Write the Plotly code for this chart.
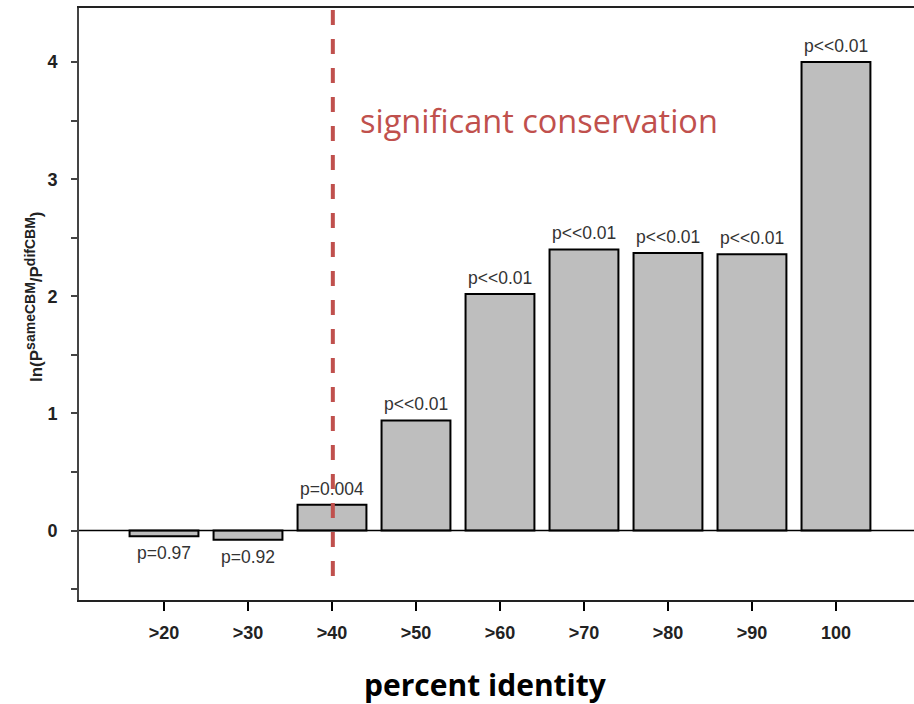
import plotly.graph_objects as go

# Percent-identity bins and log-ratio values
categories = [">20", ">30", ">40", ">50", ">60", ">70", ">80", ">90", "100"]
log_ratio = [-0.05, -0.08, 0.22, 0.94, 2.02, 2.40, 2.37, 2.36, 4.00]
p_labels = ["p=0.97", "p=0.92", "p=0.004", "p<<0.01", "p<<0.01",
            "p<<0.01", "p<<0.01", "p<<0.01", "p<<0.01"]

threshold_index = 2  # the ">40" bin
RED = "#c0504d"
HELV = "Liberation Sans, Arial"

fig = go.Figure()
fig.add_trace(go.Bar(
    x=list(range(len(categories))),
    y=log_ratio,
    marker=dict(color="#bebebe", line=dict(color="black", width=2)),
    width=0.82,
    hoverinfo="skip",
))

# p-value labels above positive bars, below negative ones
for i, (v, lab) in enumerate(zip(log_ratio, p_labels)):
    fig.add_annotation(
        x=i, y=v, text=lab, showarrow=False,
        xanchor="center",
        yanchor="bottom" if v > 0 else "top",
        yshift=4 if v > 0 else -5,
        font=dict(family=HELV, size=17.5, color="#333333"),
    )

# zero reference line
fig.add_shape(type="line", xref="paper", x0=0, x1=1, yref="y", y0=0, y1=0,
              line=dict(color="black", width=1.5))

# significance threshold
fig.add_shape(type="line", xref="x", x0=threshold_index + 0.01, x1=threshold_index + 0.01,
              yref="y", y0=4.445, y1=-0.405,
              line=dict(color=RED, width=4, dash="15px,14px"))

fig.add_annotation(
    xref="paper", yref="y", x=(358 - 79) / 835, y=3.5,
    text="significant conservation", showarrow=False,
    xanchor="left", yanchor="middle",
    font=dict(family="Open Sans, Lato", size=32.5, color=RED),
)

# axis titles
fig.add_annotation(
    xref="paper", yref="paper", x=(485 - 79) / 835, y=-(684 - 600) / 592,
    text="<b>percent identity</b>", showarrow=False,
    xanchor="center", yanchor="middle",
    font=dict(family="Open Sans, Lato", size=30, color="black"),
)
sup = "<sup><span style='font-size:14px'>{}</span></sup>"
fig.add_annotation(
    xref="paper", yref="paper", x=(34 - 79) / 835, y=(600 - 297) / 592,
    text="<b>ln(P" + sup.format("sameCBM") + "/P" + sup.format("difCBM") + ")</b>",
    showarrow=False,
    textangle=-90, xanchor="center", yanchor="middle",
    font=dict(family=HELV, size=17, color="#222222"),
)

fig.update_layout(
    width=914, height=704,
    margin=dict(l=79, r=0, t=8, b=104),
    paper_bgcolor="white", plot_bgcolor="white",
    showlegend=False,
    xaxis=dict(
        range=[-1.012, 8.929],
        tickmode="array",
        tickvals=list(range(len(categories))),
        ticktext=categories,
        ticks="outside", ticklen=9, tickwidth=1.5, tickcolor="black",
        showline=True, linecolor="#222222", linewidth=2, mirror=True,
        showgrid=False, zeroline=False,
        tickfont=dict(family=HELV, size=18, color="#222222", weight="bold"),
        ticklabelstandoff=6,
    ),
    yaxis=dict(
        range=[-0.5935, 4.462],
        tickmode="linear", tick0=0, dtick=1,
        ticks="outside", ticklen=6, tickwidth=1.5, tickcolor="#444444",
        minor=dict(ticks="outside", dtick=0.5, tick0=0, ticklen=6,
                   tickwidth=1.5, tickcolor="#444444", showgrid=False),
        showline=True, linecolor="#444444", linewidth=2,
        showgrid=False, zeroline=False,
        tickfont=dict(family=HELV, size=18, color="#222222", weight="bold"),
        ticklabelstandoff=10,
    ),
)

fig.write_html("out.html")
